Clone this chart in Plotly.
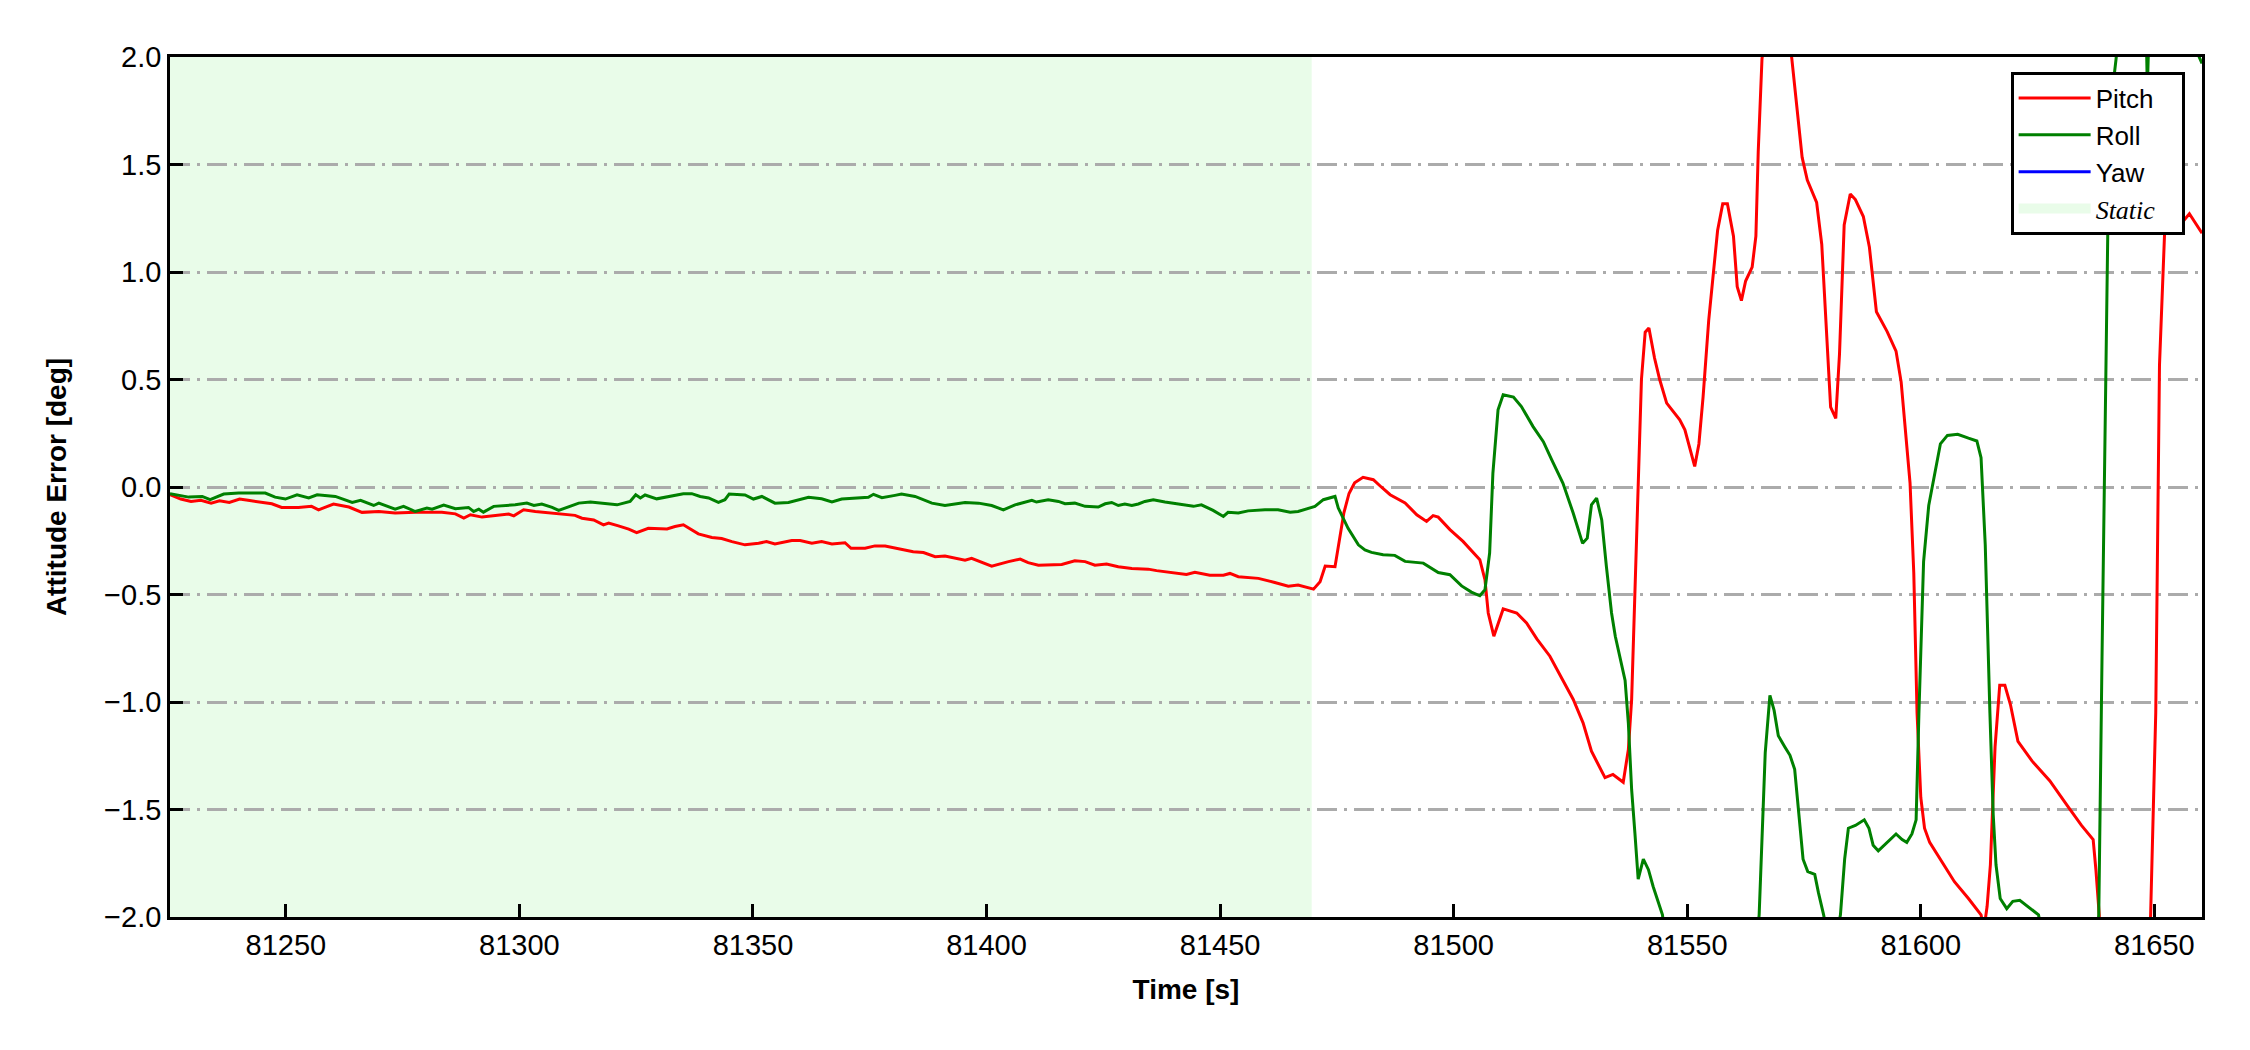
import plotly.graph_objects as go

# ---------------- data ----------------
pitch_t = [81225.2, 81227.5, 81229.7, 81231.8, 81234.0, 81235.8, 81237.9, 81240.1, 81241.9, 81245.6,
           81247.0, 81249.1, 81252.7, 81255.5, 81257.0, 81260.2, 81263.5, 81266.3, 81269.9, 81273.4,
           81277.7, 81283.4, 81286.3, 81288.1, 81289.5, 81292.0, 81295.6, 81297.7, 81298.8, 81300.9,
           81303.4, 81305.6, 81307.7, 81309.8, 81311.9, 81313.4, 81315.9, 81318.0, 81319.1, 81321.2,
           81323.4, 81325.1, 81327.6, 81331.6, 81333.3, 81335.1, 81338.3, 81341.2, 81343.3, 81345.5,
           81348.3, 81351.2, 81352.9, 81354.7, 81358.3, 81360.1, 81362.6, 81364.7, 81366.9, 81369.7,
           81371.0, 81374.0, 81376.1, 81378.3, 81381.1, 81384.3, 81386.5, 81389.0, 81391.1, 81393.6,
           81395.4, 81396.8, 81399.0, 81401.1, 81404.7, 81407.2, 81408.9, 81411.1, 81416.1, 81418.9,
           81421.1, 81423.2, 81425.7, 81428.2, 81431.1, 81434.6, 81436.4, 81439.6, 81442.8, 81444.6,
           81447.8, 81450.7, 81452.1, 81453.9, 81456.0, 81458.2, 81461.7, 81464.6, 81466.7, 81470.0,
           81471.4, 81472.5, 81474.6, 81475.4, 81476.5, 81477.6, 81478.8, 81480.6, 81482.8, 81484.5,
           81486.4, 81489.6, 81492.1, 81494.2, 81495.6, 81496.7, 81499.2, 81502.0, 81504.2, 81505.6,
           81506.7, 81507.4, 81508.6, 81510.6, 81513.5, 81515.6, 81517.8, 81520.6, 81523.4, 81525.6,
           81527.7, 81529.5, 81532.4, 81534.1, 81536.3, 81537.4, 81538.1, 81538.8, 81539.5, 81540.2,
           81541.0, 81541.8, 81543.0, 81544.1, 81545.6, 81548.4, 81549.5, 81551.6, 81552.5, 81553.4,
           81554.6, 81556.5, 81557.6, 81558.6, 81559.9, 81560.7, 81561.6, 81562.5, 81563.9, 81564.7,
           81565.2, 81566.0, 81568.0, 81570.5, 81572.4, 81574.6, 81575.7, 81577.7, 81578.8, 81579.6,
           81580.7, 81581.8, 81582.6, 81583.6, 81584.9, 81586.0, 81587.7, 81589.0, 81590.5, 81592.8,
           81594.7, 81595.8, 81597.7, 81598.5, 81599.2, 81600.0, 81600.8, 81601.9, 81604.2, 81607.2,
           81610.2, 81612.9, 81613.5, 81614.2, 81614.9, 81615.9, 81616.9, 81618.0, 81619.2, 81620.8,
           81623.8, 81627.6, 81631.4, 81634.4, 81636.9, 81637.5, 81638.2, 81639.5, 81644.0, 81648.0,
           81649.2, 81650.3, 81651.1, 81651.8, 81652.4, 81654.5, 81656.0, 81657.5, 81660.2]
pitch_v = [-0.035, -0.056, -0.067, -0.062, -0.075, -0.064, -0.072, -0.056, -0.062, -0.075,
           -0.078, -0.095, -0.095, -0.090, -0.106, -0.079, -0.093, -0.118, -0.114, -0.121,
           -0.118, -0.118, -0.125, -0.145, -0.129, -0.140, -0.129, -0.126, -0.134, -0.106,
           -0.114, -0.118, -0.125, -0.126, -0.132, -0.145, -0.153, -0.176, -0.168, -0.181,
           -0.196, -0.212, -0.192, -0.195, -0.184, -0.176, -0.218, -0.235, -0.240, -0.254,
           -0.269, -0.262, -0.254, -0.265, -0.249, -0.249, -0.262, -0.254, -0.265, -0.259,
           -0.285, -0.285, -0.274, -0.274, -0.287, -0.301, -0.305, -0.324, -0.321, -0.332,
           -0.340, -0.332, -0.352, -0.368, -0.347, -0.335, -0.352, -0.364, -0.360, -0.343,
           -0.347, -0.364, -0.358, -0.371, -0.379, -0.382, -0.389, -0.397, -0.407, -0.397,
           -0.410, -0.410, -0.402, -0.417, -0.421, -0.425, -0.444, -0.461, -0.456, -0.475,
           -0.441, -0.368, -0.371, -0.260, -0.120, -0.030, 0.020, 0.045, 0.034, 0.000,
           -0.036, -0.074, -0.129, -0.160, -0.133, -0.140, -0.198, -0.253, -0.307, -0.338,
           -0.431, -0.586, -0.694, -0.567, -0.586, -0.632, -0.706, -0.787, -0.900, -0.988,
           -1.097, -1.229, -1.352, -1.337, -1.373, -1.221, -0.988, -0.524, 0.000, 0.500,
           0.720, 0.740, 0.600, 0.500, 0.390, 0.313, 0.266, 0.096, 0.200, 0.420,
           0.775, 1.193, 1.318, 1.318, 1.167, 0.932, 0.867, 0.958, 1.023, 1.167,
           1.559, 1.990, 2.350, 2.350, 1.990, 1.533, 1.428, 1.324, 1.128, 0.828,
           0.371, 0.319, 0.619, 1.219, 1.363, 1.337, 1.258, 1.115, 0.815, 0.723,
           0.632, 0.488, 0.018, -0.400, -1.050, -1.444, -1.587, -1.653, -1.731, -1.836,
           -1.914, -1.990, -2.060, -1.950, -1.757, -1.209, -0.922, -0.922, -1.013, -1.183,
           -1.274, -1.366, -1.483, -1.574, -1.640, -1.783, -1.990, -2.600, -2.900, -2.600,
           -1.990, -1.050, 0.567, 0.984, 1.298, 1.245, 1.232, 1.271, 1.180]

roll_t = [81225.2, 81229.2, 81232.1, 81233.8, 81236.7, 81239.9, 81245.6, 81247.7, 81249.9, 81252.4,
          81254.9, 81256.7, 81260.6, 81264.2, 81266.0, 81268.8, 81269.9, 81273.4, 81275.2, 81277.7,
          81280.2, 81281.3, 81283.8, 81286.3, 81289.1, 81290.2, 81291.3, 81292.3, 81294.5, 81299.1,
          81301.6, 81303.1, 81304.8, 81307.0, 81308.4, 81309.8, 81312.7, 81315.2, 81317.6, 81320.9,
          81323.7, 81324.9, 81325.9, 81326.9, 81329.4, 81331.9, 81335.1, 81336.9, 81338.7, 81340.5,
          81342.6, 81344.0, 81344.9, 81348.3, 81350.1, 81351.9, 81354.7, 81357.6, 81359.7, 81361.9,
          81364.7, 81366.9, 81369.0, 81372.6, 81374.7, 81375.8, 81377.6, 81380.4, 81381.8, 81384.7,
          81388.3, 81391.1, 81395.4, 81398.3, 81401.1, 81403.6, 81406.1, 81409.7, 81410.7, 81413.2,
          81415.4, 81416.8, 81418.9, 81421.1, 81423.9, 81425.4, 81426.8, 81428.2, 81429.6, 81431.1,
          81432.5, 81433.9, 81435.7, 81438.2, 81441.0, 81444.3, 81446.0, 81448.5, 81450.7, 81451.7,
          81453.9, 81456.0, 81459.6, 81462.4, 81465.0, 81466.7, 81470.3, 81472.1, 81474.6, 81475.3,
          81477.4, 81479.6, 81481.0, 81482.4, 81484.9, 81487.4, 81489.6, 81493.5, 81496.7, 81499.2,
          81501.7, 81503.8, 81505.6, 81506.7, 81507.7, 81508.4, 81509.5, 81510.6, 81512.8, 81514.5,
          81517.0, 81519.2, 81521.0, 81523.4, 81525.6, 81527.6, 81528.6, 81529.5, 81530.6, 81531.7,
          81532.7, 81533.8, 81534.6, 81535.6, 81536.7, 81537.4, 81538.1, 81538.8, 81539.5, 81540.6,
          81541.7, 81542.7, 81544.7, 81547.0, 81555.0, 81563.5, 81565.4, 81566.7, 81567.7, 81568.6,
          81569.5, 81570.9, 81572.0, 81573.0, 81573.9, 81574.8, 81575.8, 81577.3, 81578.1, 81579.2,
          81581.0, 81582.8, 81583.7, 81584.5, 81586.0, 81587.9, 81588.9, 81589.8, 81590.9, 81592.8,
          81594.7, 81596.0, 81597.0, 81598.1, 81599.0, 81599.6, 81600.6, 81601.7, 81602.6, 81604.2,
          81605.7, 81607.9, 81610.2, 81612.0, 81612.9, 81613.8, 81614.8, 81615.5, 81616.1, 81617.0,
          81618.4, 81619.7, 81621.2, 81623.1, 81625.2, 81628.0, 81634.0, 81637.0, 81638.1, 81638.8,
          81639.6, 81640.1, 81640.9, 81641.8, 81644.0, 81648.0, 81648.5, 81649.2, 81655.0, 81659.2,
          81660.2]
roll_v = [-0.031, -0.047, -0.044, -0.059, -0.033, -0.028, -0.028, -0.047, -0.056, -0.036,
          -0.051, -0.036, -0.044, -0.072, -0.062, -0.086, -0.075, -0.103, -0.090, -0.114,
          -0.098, -0.103, -0.084, -0.101, -0.095, -0.114, -0.103, -0.117, -0.090, -0.083,
          -0.075, -0.086, -0.079, -0.095, -0.109, -0.098, -0.075, -0.070, -0.075, -0.083,
          -0.067, -0.036, -0.051, -0.037, -0.055, -0.044, -0.031, -0.031, -0.044, -0.051,
          -0.072, -0.059, -0.033, -0.037, -0.056, -0.044, -0.075, -0.072, -0.062, -0.048,
          -0.055, -0.070, -0.056, -0.053, -0.048, -0.034, -0.050, -0.039, -0.033, -0.044,
          -0.075, -0.086, -0.072, -0.075, -0.086, -0.106, -0.083, -0.062, -0.070, -0.059,
          -0.067, -0.078, -0.075, -0.090, -0.093, -0.078, -0.072, -0.086, -0.079, -0.086,
          -0.079, -0.067, -0.059, -0.070, -0.078, -0.090, -0.083, -0.109, -0.137, -0.118,
          -0.121, -0.111, -0.106, -0.106, -0.117, -0.114, -0.090, -0.059, -0.044, -0.098,
          -0.192, -0.269, -0.293, -0.304, -0.315, -0.318, -0.346, -0.354, -0.398, -0.408,
          -0.460, -0.489, -0.506, -0.478, -0.307, 0.065, 0.359, 0.429, 0.418, 0.374,
          0.281, 0.211, 0.126, 0.017, -0.122, -0.262, -0.238, -0.083, -0.052, -0.153,
          -0.370, -0.586, -0.694, -0.785, -0.900, -1.100, -1.408, -1.610, -1.824, -1.731,
          -1.780, -1.858, -1.990, -2.400, -2.800, -2.400, -1.990, -1.235, -0.969, -1.039,
          -1.157, -1.209, -1.248, -1.313, -1.522, -1.731, -1.789, -1.802, -1.888, -1.990,
          -2.200, -1.990, -1.731, -1.587, -1.574, -1.548, -1.587, -1.666, -1.692, -1.653,
          -1.614, -1.640, -1.653, -1.614, -1.548, -1.052, -0.347, -0.086, 0.018, 0.201,
          0.240, 0.245, 0.227, 0.214, 0.136, -0.269, -1.052, -1.522, -1.757, -1.914,
          -1.961, -1.927, -1.922, -1.953, -1.990, -2.300, -2.500, -2.300, -1.990, -0.790,
          0.514, 1.298, 1.820, 1.990, 2.500, 2.400, 1.850, 2.400, 2.600, 2.020,
          1.970]

# Yaw never appears inside the plotted range: legend entry only
yaw_t = [None]
yaw_v = [None]

static_start = 81225.2
static_end = 81469.6

x_range = [81225.2, 81660.2]
y_range = [-2.0, 2.0]
x_ticks = [81250, 81300, 81350, 81400, 81450, 81500, 81550, 81600, 81650]
y_ticks = [-2.0, -1.5, -1.0, -0.5, 0.0, 0.5, 1.0, 1.5, 2.0]

# ---------------- figure ----------------
static_color = "rgb(233,252,233)"
fig = go.Figure()

fig.add_trace(go.Scatter(
    x=pitch_t, y=pitch_v, mode="lines", name="Pitch",
    line=dict(color="#ff0000", width=3), legendrank=1))
fig.add_trace(go.Scatter(
    x=roll_t, y=roll_v, mode="lines", name="Roll",
    line=dict(color="#008000", width=3), legendrank=2))
fig.add_trace(go.Scatter(
    x=yaw_t, y=yaw_v, mode="lines", name="Yaw",
    line=dict(color="#0000ff", width=3), legendrank=3))
# legend entry for the static span (span itself drawn as a shape below the grid)
fig.add_trace(go.Scatter(
    x=[None], y=[None], mode="lines",
    name='<span style="font-family:Liberation Serif"><i>Static</i></span>&nbsp;&nbsp;&nbsp;',
    line=dict(color=static_color, width=10), legendrank=4))

fig.add_shape(
    type="rect", xref="x", yref="y",
    x0=static_start, x1=static_end, y0=y_range[0], y1=y_range[1],
    fillcolor=static_color, line=dict(width=0), layer="below")

font_family = "Liberation Sans, Arial, sans-serif"

fig.update_layout(
    width=2250, height=1050,
    margin=dict(l=162, r=56, t=49, b=141),
    paper_bgcolor="white", plot_bgcolor="white",
    font=dict(family=font_family, size=29, color="black"),
    showlegend=True,
    legend=dict(
        x=0.9916, y=0.9826, xanchor="right", yanchor="top",
        bgcolor="white", bordercolor="black", borderwidth=2.7,
        font=dict(family=font_family, size=26, color="black"),
        itemwidth=72, tracegroupgap=0,
    ),
    xaxis=dict(
        range=x_range, tickvals=x_ticks, ticktext=[str(v) for v in x_ticks],
        showgrid=False, zeroline=False,
        showline=True, linecolor="black", linewidth=2.7, mirror=True,
        ticks="inside", ticklen=13, tickwidth=2.7, tickcolor="black",
        tickfont=dict(size=29),
        title=dict(text="<b>Time [s]</b>", font=dict(size=28), standoff=20),
    ),
    yaxis=dict(
        range=y_range, tickvals=y_ticks, tickformat=".1f",
        showgrid=True, gridcolor="#ababab", gridwidth=2.5,
        griddash="20px,7px,3px,7px",
        zeroline=False,
        showline=True, linecolor="black", linewidth=2.7, mirror=True,
        ticks="inside", ticklen=13, tickwidth=2.7, tickcolor="black",
        tickfont=dict(size=29),
        title=dict(text="<b>Attitude Error [deg]</b>", font=dict(size=28), standoff=30),
    ),
)

fig.write_html("out.html")
